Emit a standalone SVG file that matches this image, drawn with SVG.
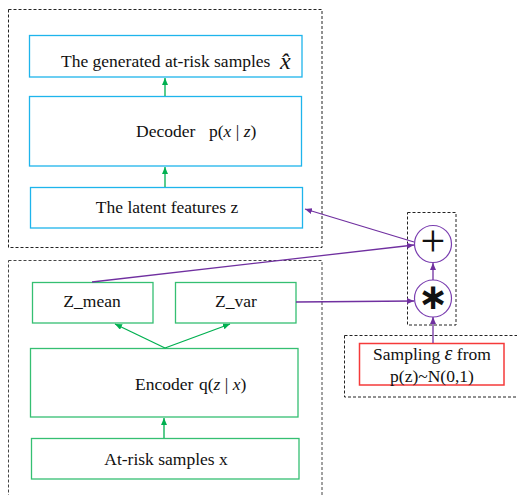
<svg xmlns="http://www.w3.org/2000/svg" width="517" height="495" viewBox="0 0 517 495">
<defs>
<marker id="ag" markerUnits="userSpaceOnUse" markerWidth="8" markerHeight="7" refX="7" refY="3" orient="auto"><path d="M0,0 L7,3 L0,6 z" fill="#00B050"/></marker>
<marker id="ap" markerUnits="userSpaceOnUse" markerWidth="8" markerHeight="7" refX="7" refY="3" orient="auto"><path d="M0,0 L7,3 L0,6 z" fill="#7030A0"/></marker>
</defs>
<style>
.dash{fill:none;stroke:#222;stroke-width:1;stroke-dasharray:3,2}
.blue{fill:#fff;stroke:#1EB4EC;stroke-width:1.3}
.green{fill:#fff;stroke:#35BF72;stroke-width:1.3}
.red{fill:#fff;stroke:#F53A3A;stroke-width:1.5}
.circ{fill:#fff;stroke:#7A3EB0;stroke-width:1.2}
.t{font-family:"Liberation Serif","Times New Roman",serif;font-size:17.5px;fill:#111}
.ga{stroke:#00B050;stroke-width:1.3;fill:none;marker-end:url(#ag)}
.pa{stroke:#7030A0;stroke-width:1.3;fill:none;marker-end:url(#ap)}
</style>
<rect class="dash" x="8.5" y="9.5" width="313.5" height="238"/>
<rect class="dash" x="8.5" y="260.5" width="313.5" height="260" style="stroke:#444"/>
<rect class="dash" x="344.5" y="335.5" width="200" height="61.5"/>
<rect class="dash" x="407.5" y="212.5" width="48.5" height="112.5"/>

<g id="generated">
<rect class="blue" x="29.5" y="35.5" width="272.5" height="41.5"/>
<text class="t" x="61" y="67">The generated at-risk samples <tspan x="280" y="69" style="font-size:24px;font-style:italic">x̂</tspan></text>
</g>
<g id="decoder">
<rect class="blue" x="29.5" y="96.5" width="272" height="69.5"/>
<text class="t" x="136" y="137">Decoder <tspan x="209">p(</tspan><tspan font-style="italic">x</tspan> | <tspan font-style="italic">z</tspan>)</text>
</g>
<g id="latent">
<rect class="blue" x="30.5" y="187.5" width="272" height="40.5"/>
<text class="t" x="167" y="213" text-anchor="middle">The latent features z</text>
</g>
<g id="zmean">
<rect class="green" x="32.5" y="282.5" width="120.5" height="40.5"/>
<text class="t" x="92" y="307" text-anchor="middle">Z_mean</text>
</g>
<g id="zvar">
<rect class="green" x="175.5" y="282.5" width="120.5" height="40.5"/>
<text class="t" x="236" y="307" text-anchor="middle">Z_var</text>
</g>
<g id="encoder">
<rect class="green" x="30.5" y="348.5" width="267.5" height="68.5"/>
<text class="t" x="135" y="390">Encoder <tspan x="199">q(</tspan><tspan font-style="italic">z</tspan> | <tspan font-style="italic">x</tspan>)</text>
</g>
<g id="input">
<rect class="green" x="31.5" y="438.5" width="267.5" height="40.5"/>
<text class="t" x="166" y="465" text-anchor="middle">At-risk samples x</text>
</g>
<g id="plus">
<circle class="circ" cx="433" cy="244" r="18.5"/>
<text x="433" y="256" text-anchor="middle" style="font-family:'Liberation Serif',serif;font-size:44px;fill:#111">+</text>
</g>
<g id="mult">
<circle class="circ" cx="433" cy="298.5" r="18.5"/>
<text x="433" y="309" text-anchor="middle" style="font-family:'DejaVu Sans',sans-serif;font-size:36px;font-weight:bold;fill:#111">∗</text>
</g>
<g id="sampling">
<rect class="red" x="359.5" y="343.5" width="144.5" height="41.5"/>
<text class="t" x="432" y="360" text-anchor="middle">Sampling <tspan font-style="italic" font-size="20px">ε</tspan> from</text>
<text class="t" x="432" y="382" text-anchor="middle">p(z)~N(0,1)</text>
</g>
<g id="connectors">
<line class="ga" x1="165" y1="96" x2="165" y2="78"/>
<line class="ga" x1="165" y1="187" x2="165" y2="167"/>
<line class="ga" x1="165" y1="348" x2="115" y2="324"/>
<line class="ga" x1="165" y1="348" x2="230" y2="324"/>
<line class="ga" x1="164" y1="438" x2="164" y2="418"/>
<line class="pa" x1="414" y1="242" x2="305" y2="209"/>
<line class="pa" x1="92" y1="282" x2="414" y2="245"/>
<line class="pa" x1="296" y1="302" x2="414" y2="301"/>
<line class="pa" x1="433" y1="280" x2="433" y2="263"/>
<line class="pa" x1="433" y1="343" x2="433" y2="317"/>
</g>
</svg>
